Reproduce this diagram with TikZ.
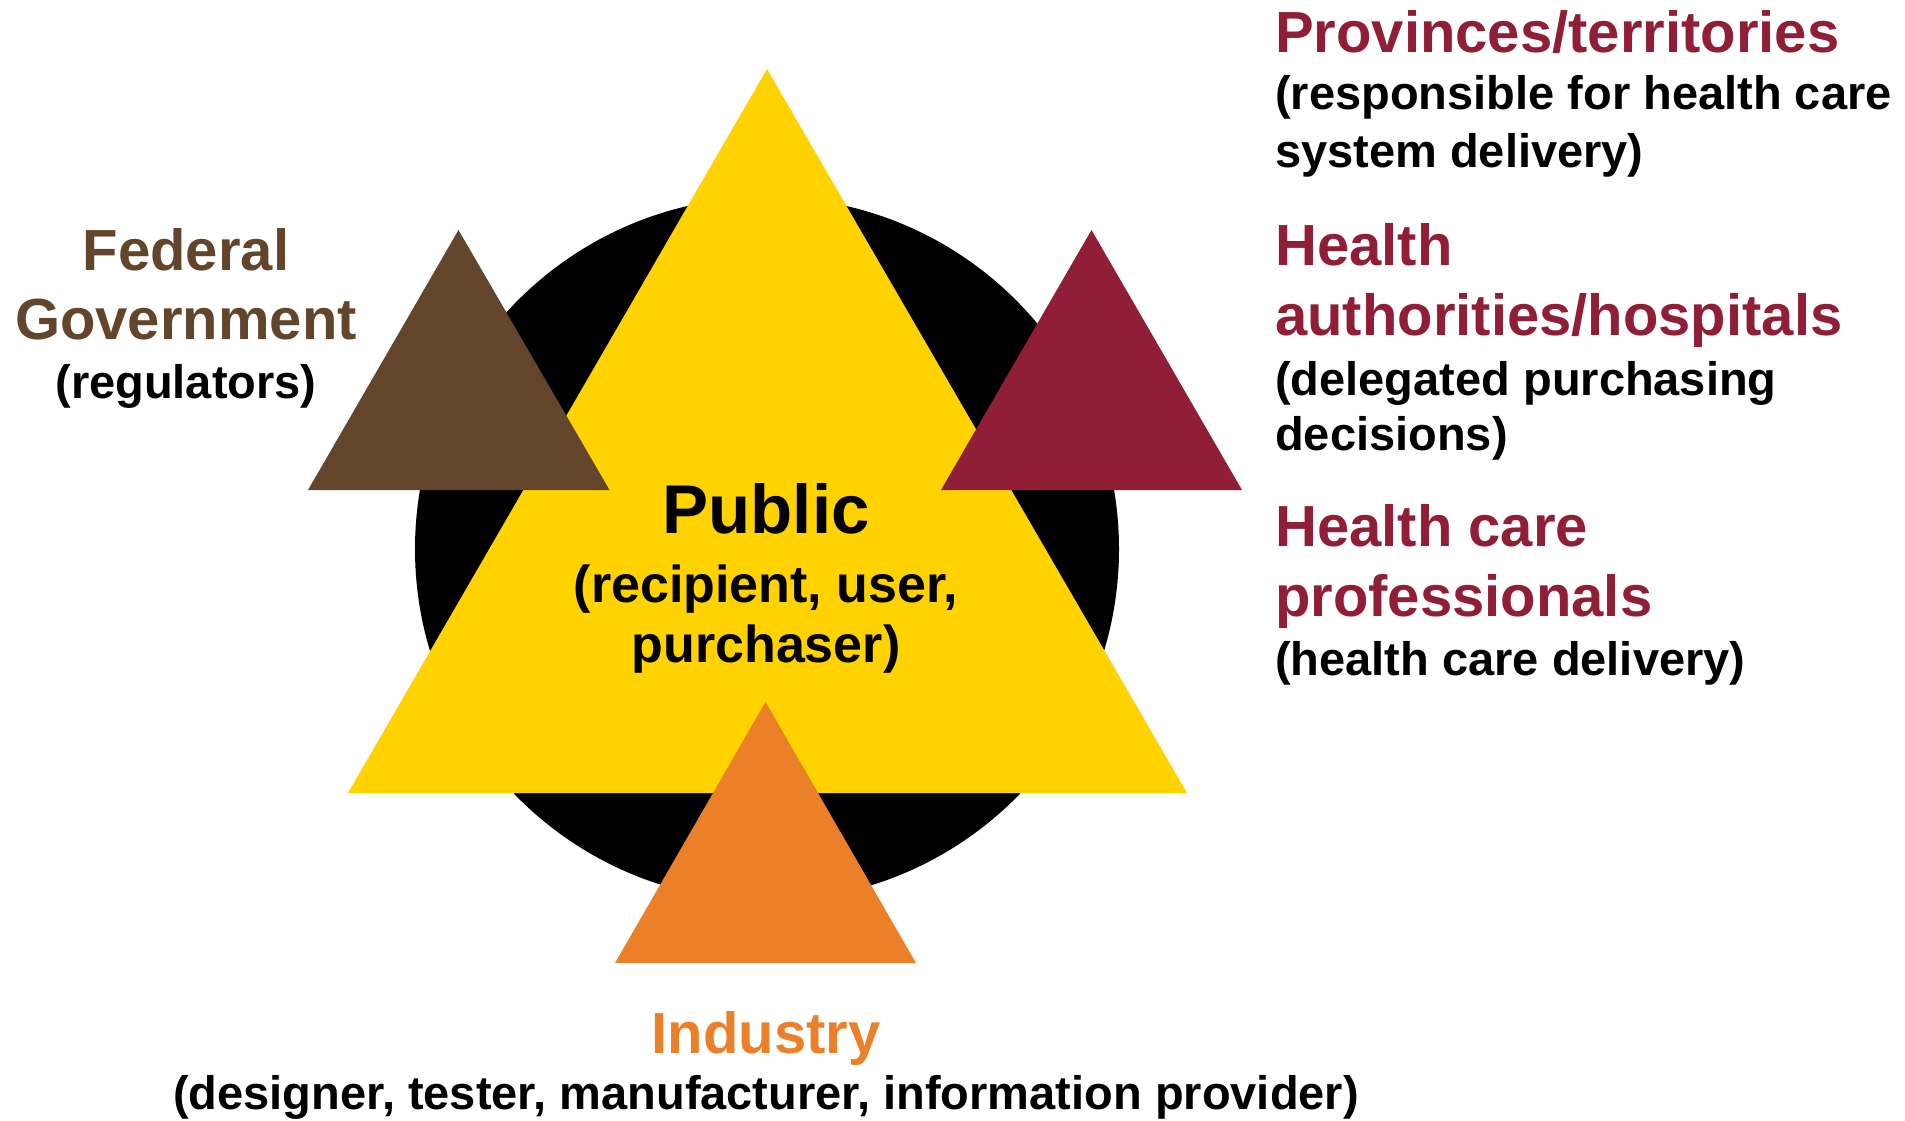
\documentclass[tikz,border=0pt]{standalone}
\usepackage{fontspec}
\setmainfont{Liberation Sans}
\definecolor{pubyellow}{RGB}{255,210,0}
\definecolor{fedbrown}{RGB}{99,69,44}
\definecolor{provmaroon}{RGB}{143,30,54}
\definecolor{indorange}{RGB}{235,128,40}
\tikzset{
  ttl/.style={font=\fontsize{58}{70}\selectfont\bfseries, inner sep=0pt},
  subt/.style={font=\fontsize{47}{56}\selectfont\bfseries, inner sep=0pt, text=black},
  bigttl/.style={font=\fontsize{69}{80}\selectfont\bfseries, inner sep=0pt, text=black},
  bigsub/.style={font=\fontsize{52}{60}\selectfont\bfseries, inner sep=0pt, text=black},
}
\begin{document}
\begin{tikzpicture}[x=1pt,y=-1pt]
\useasboundingbox (0,0) rectangle (1905,1121);
% central disc
\fill[black] (767,549) circle[radius=352];
% public triangle
\fill[pubyellow] (767,69) -- (1187,793) -- (348,793) -- cycle;
% federal triangle
\fill[fedbrown] (458.5,230) -- (609.5,490) -- (308,490) -- cycle;
% provinces triangle
\fill[provmaroon] (1091.5,230) -- (1242,490) -- (941,490) -- cycle;
% industry triangle
\fill[indorange] (765.5,702) -- (916,963) -- (615,963) -- cycle;

% Public
\node[bigttl, anchor=base] (pub1) at (766,533) {Public};
\node[bigsub, anchor=base] (pub2) at (766,602) {(recipient, user,};
\node[bigsub, anchor=base] (pub3) at (766,662) {purchaser)};

% Federal
\node[ttl, text=fedbrown, anchor=base] (fed1) at (186,270) {Federal};
\node[ttl, text=fedbrown, anchor=base] (fed2) at (186,339) {Government};
\node[subt, anchor=base] (fed3) at (186,398) {(regulators)};

% Industry
\node[ttl, text=indorange, anchor=base] (ind1) at (766,1053) {Industry};
\node[subt, anchor=base] (ind2) at (766,1109) {(designer, tester, manufacturer, information provider)};

% Right column
\node[ttl, text=provmaroon, anchor=base west] (pr1) at (1275,53) {Provinces/territories};
\node[subt, anchor=base west] (pr2) at (1275,110) {(responsible for health care};
\node[subt, anchor=base west] (pr3) at (1275,167) {system delivery)};

\node[ttl, text=provmaroon, anchor=base west] (ha1) at (1275,265) {Health};
\node[ttl, text=provmaroon, anchor=base west] (ha2) at (1275,335) {authorities/hospitals};
\node[subt, anchor=base west] (ha3) at (1275,395) {(delegated purchasing};
\node[subt, anchor=base west] (ha4) at (1275,450) {decisions)};

\node[ttl, text=provmaroon, anchor=base west] (hp1) at (1275,546) {Health care};
\node[ttl, text=provmaroon, anchor=base west] (hp2) at (1275,616) {professionals};
\node[subt, anchor=base west] (hp3) at (1275,675) {(health care delivery)};
\end{tikzpicture}
\end{document}
